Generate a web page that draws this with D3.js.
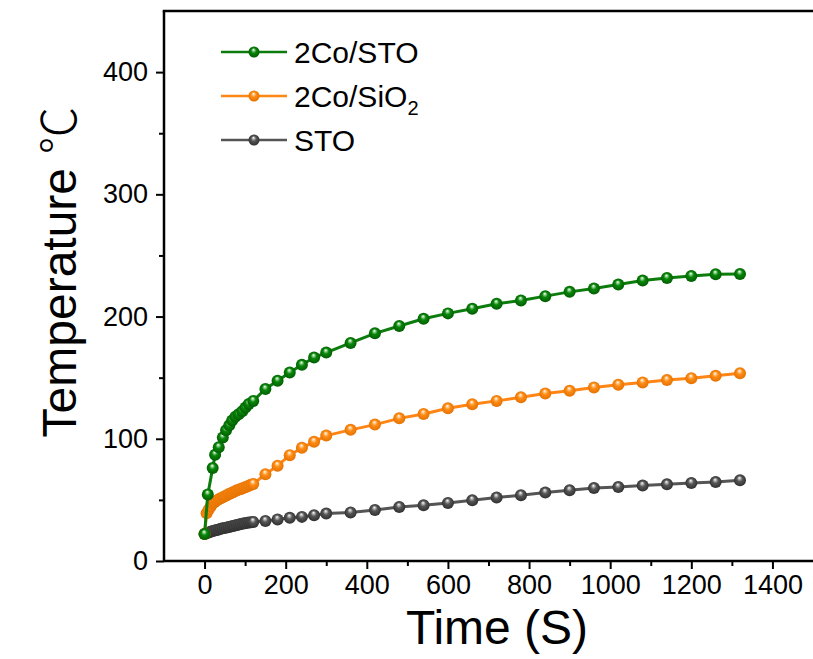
<!DOCTYPE html>
<html>
<head>
<meta charset="utf-8">
<script src="https://cdn.jsdelivr.net/npm/d3@7"></script>
<style>
  html, body { margin: 0; padding: 0; background: #ffffff; }
  svg { display: block; }
  text { font-family: "Liberation Sans", Arial, sans-serif; fill: #000; }
</style>
</head>
<body>
<svg id="chart" width="813" height="659"></svg>
<script>
// Heating curves: temperature (°C) versus irradiation time (s)
const timeCoSTO = [0, 8, 20, 26, 35, 45, 53, 61, 68, 76, 84, 93, 101, 109, 120,
  150, 180, 210, 240, 270, 300, 360, 420, 480, 540, 600, 660, 720, 780, 840,
  900, 960, 1020, 1080, 1140, 1200, 1260, 1320];
const tempCoSTO = [22, 54.5, 76, 87, 93, 101, 107, 111, 115, 118, 120, 122.5, 125.5, 128.5, 131,
  140.7, 147.5, 154.2, 160.5, 166.5, 170.5, 178.4, 186.3, 192.3, 198.2, 202.6, 206.4, 210.5, 213.2, 216.7,
  220.2, 223, 226.2, 229.5, 231.6, 233.2, 234.6, 234.8];

const timeDense = [0, 5, 10, 15, 20, 25, 30, 35, 40, 45, 50, 55, 60, 65, 70, 75, 80, 85, 90, 95, 100,
  105, 110, 115, 120, 150, 180, 210, 240, 270, 300, 360, 420, 480, 540, 600, 660, 720, 780, 840,
  900, 960, 1020, 1080, 1140, 1200, 1260, 1320];
const tempCoSiO2 = [22, 39, 42, 44.5, 47, 48.3, 49.5, 50.5, 51.3, 52.2, 53, 53.8, 54.8, 55.5, 56.2, 57, 57.8,
  58.4, 59, 59.7, 60.4, 61, 61.7, 62.3, 63, 71, 78, 86.6, 92.6, 97.5, 102.6, 107.3, 111.6, 116.7, 120.3,
  124.9, 128.2, 131, 133.9, 137.1, 139.3, 142, 144.2, 146.1, 148, 149.6, 151.5, 153.6];
const tempSTO = [22, 22.8, 23.4, 24, 24.5, 25, 25.4, 25.8, 26.3, 26.7, 27.1, 27.5, 27.9, 28.3, 28.7, 29.1,
  29.5, 29.9, 30.3, 30.6, 30.9, 31.2, 31.5, 31.8, 32, 32.8, 34, 35.3, 36.1, 37.5, 38.8, 39.7, 41.8, 44.2,
  45.6, 47.5, 49.7, 52, 53.8, 56, 57.8, 59.7, 60.5, 61.7, 62.7, 63.8, 64.6, 66];

const xMajorTicks = [0, 200, 400, 600, 800, 1000, 1200, 1400];
const xMinorTicks = [100, 300, 500, 700, 900, 1100, 1300];
const yMajorTicks = [0, 100, 200, 300, 400];
const yMinorTicks = [50, 150, 250, 350];

const seriesNames = ["2Co/STO", "2Co/SiO2", "STO"];

const series = [
  { key: "sto", name: seriesNames[2], t: timeDense, v: tempSTO,
    line: "#555555", light: "#c4c4c4", base: "#575757", dark: "#2a2a2a" },
  { key: "sio2", name: seriesNames[1], t: timeDense, v: tempCoSiO2,
    line: "#ff8614", light: "#ffd7a8", base: "#ff8c14", dark: "#e06e00" },
  { key: "costo", name: seriesNames[0], t: timeCoSTO, v: tempCoSTO,
    line: "#0c7c0c", light: "#a6dca6", base: "#0a870a", dark: "#005800" }
];

const svg = d3.select("#chart");
const margin = { left: 164, right: 813, top: 11, bottom: 561 };

const x = d3.scaleLinear().domain([-100, 1500]).range([margin.left, margin.right]);
const y = d3.scaleLinear().domain([0, 450]).range([margin.bottom, margin.top]);

// Sphere-like marker shading
const defs = svg.append("defs");
series.forEach(s => {
  const g = defs.append("radialGradient")
    .attr("id", "ball-" + s.key)
    .attr("cx", "0.5").attr("cy", "0.5").attr("r", "0.55")
    .attr("fx", "0.45").attr("fy", "0.28");
  g.append("stop").attr("offset", "0").attr("stop-color", "#ffffff");
  g.append("stop").attr("offset", "0.14").attr("stop-color", s.light);
  g.append("stop").attr("offset", "0.42").attr("stop-color", s.base);
  g.append("stop").attr("offset", "1").attr("stop-color", s.dark);
});

// Axes
const axisFont = 27;
function styleAxis(g) {
  g.select(".domain").attr("stroke", "#000").attr("stroke-width", 2.5);
  g.selectAll(".tick line").attr("stroke", "#000").attr("stroke-width", 2);
  g.selectAll(".tick text")
    .attr("font-size", axisFont)
    .attr("font-family", "'Liberation Sans', Arial, sans-serif")
    .attr("fill", "#000");
}

const xAxisMajor = d3.axisBottom(x).tickValues(xMajorTicks).tickSize(8).tickPadding(6).tickFormat(d3.format("d"));
const xAxisMinor = d3.axisBottom(x).tickValues(xMinorTicks).tickSize(5).tickFormat("");
const yAxisMajor = d3.axisLeft(y).tickValues(yMajorTicks).tickSize(8).tickPadding(8).tickFormat(d3.format("d"));
const yAxisMinor = d3.axisLeft(y).tickValues(yMinorTicks).tickSize(5).tickFormat("");

svg.append("g").attr("transform", `translate(0,${margin.bottom})`).call(xAxisMinor).call(styleAxis)
  .select(".domain").remove();
svg.append("g").attr("transform", `translate(0,${margin.bottom})`).call(xAxisMajor).call(styleAxis)
  .call(g => g.select(".domain").attr("d", `M${margin.left},0H${margin.right}`));
svg.append("g").attr("transform", `translate(${margin.left},0)`).call(yAxisMinor).call(styleAxis)
  .select(".domain").remove();
svg.append("g").attr("transform", `translate(${margin.left},0)`).call(yAxisMajor).call(styleAxis)
  .call(g => g.select(".domain").attr("d", `M0,${margin.bottom}V${margin.top}`));

// Top frame line
svg.append("line")
  .attr("x1", margin.left - 1.25).attr("x2", margin.right)
  .attr("y1", margin.top).attr("y2", margin.top)
  .attr("stroke", "#000").attr("stroke-width", 2.5);

// Axis titles
svg.append("text")
  .attr("x", 497).attr("y", 644)
  .attr("text-anchor", "middle")
  .attr("font-size", 48)
  .text("Time (S)");

const yTitle = svg.append("text")
  .attr("transform", `translate(76,${272}) rotate(-90)`)
  .attr("text-anchor", "middle")
  .attr("font-size", 48);
yTitle.append("tspan").text("Temperature ");
yTitle.append("tspan")
  .attr("font-family", "'Noto Sans CJK SC', 'DejaVu Sans', sans-serif")
  .attr("font-weight", 300)
  .text("℃");

// Series lines and markers
const lineGen = d3.line().x(d => x(d[0])).y(d => y(d[1]));
const plot = svg.append("g");
series.forEach(s => {
  const pts = s.t.map((t, i) => [t, s.v[i]]);
  const g = plot.append("g");
  g.append("path")
    .datum(pts)
    .attr("d", lineGen)
    .attr("fill", "none")
    .attr("stroke", s.line)
    .attr("stroke-width", 3);
  g.selectAll("circle")
    .data(pts)
    .join("circle")
    .attr("cx", d => x(d[0]))
    .attr("cy", d => y(d[1]))
    .attr("r", 6)
    .attr("fill", `url(#ball-${s.key})`);
});

// Legend
const legendRows = [series[2], series[1], series[0]];
const legend = svg.append("g");
legendRows.forEach((s, i) => {
  const cy = 52 + i * 44;
  legend.append("line")
    .attr("x1", 221).attr("x2", 287).attr("y1", cy).attr("y2", cy)
    .attr("stroke", s.line).attr("stroke-width", 2.5);
  legend.append("circle")
    .attr("cx", 254).attr("cy", cy).attr("r", 5.5)
    .attr("fill", `url(#ball-${s.key})`);
  const t = legend.append("text")
    .attr("x", 294).attr("y", cy + 11)
    .attr("font-size", 30);
  if (s.key === "sio2") {
    t.append("tspan").text("2Co/SiO");
    t.append("tspan").attr("font-size", 20).attr("dy", 8).text("2");
  } else {
    t.text(s.name);
  }
});
</script>
</body>
</html>
